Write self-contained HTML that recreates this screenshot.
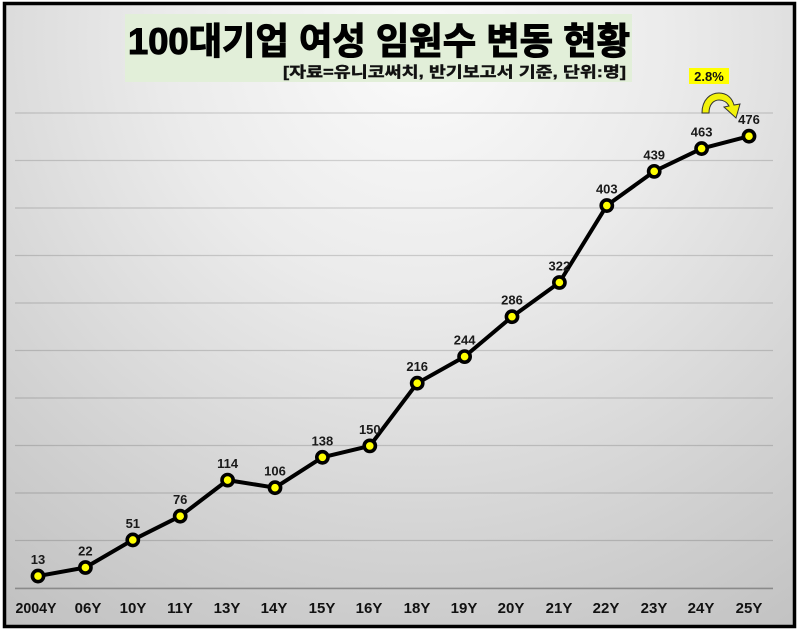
<!DOCTYPE html>
<html><head><meta charset="utf-8"><style>
html,body{margin:0;padding:0;background:#fff;}
svg{display:block;}
text{font-family:"Liberation Sans","Noto Sans CJK KR",sans-serif;font-weight:bold;}
</style></head><body>
<svg width="800" height="632" viewBox="0 0 800 632" xmlns="http://www.w3.org/2000/svg">
<defs>
<radialGradient id="bg" cx="420" cy="40" r="720" gradientUnits="userSpaceOnUse">
<stop offset="0" stop-color="#fbfbfb"/>
<stop offset="0.35" stop-color="#ebebeb"/>
<stop offset="0.75" stop-color="#d0d0d0"/>
<stop offset="1" stop-color="#c0c0c0"/>
</radialGradient>
</defs>
<rect x="0" y="0" width="800" height="632" fill="#fff"/>
<rect x="4.5" y="3.5" width="790" height="623" fill="url(#bg)" stroke="#000" stroke-width="3.5"/>
<g stroke="rgba(0,0,0,0.15)" stroke-width="1.2">
<line x1="15" y1="113" x2="773" y2="113"/>
<line x1="15" y1="160.5" x2="773" y2="160.5"/>
<line x1="15" y1="208" x2="773" y2="208"/>
<line x1="15" y1="255.5" x2="773" y2="255.5"/>
<line x1="15" y1="303" x2="773" y2="303"/>
<line x1="15" y1="350.5" x2="773" y2="350.5"/>
<line x1="15" y1="398" x2="773" y2="398"/>
<line x1="15" y1="445.5" x2="773" y2="445.5"/>
<line x1="15" y1="493" x2="773" y2="493"/>
<line x1="15" y1="540.5" x2="773" y2="540.5"/>
</g>
<line x1="15" y1="588.4" x2="773" y2="588.4" stroke="#8a8a8a" stroke-width="1.6"/>
<rect x="125" y="14" width="507" height="68" fill="#e2efd9"/>
<text x="128" y="54" font-size="37" fill="#000" stroke="#000" stroke-width="1.1" textLength="502" lengthAdjust="spacingAndGlyphs">100대기업 여성 임원수 변동 현황</text>
<text x="283" y="77" font-size="15" fill="#111" stroke="#111" stroke-width="0.4" textLength="343" lengthAdjust="spacingAndGlyphs">[자료=유니코써치, 반기보고서 기준, 단위:명]</text>
<polyline fill="none" stroke="#000" stroke-width="4" stroke-linejoin="round" points="38,576.05 85.4,567.5 132.8,539.95 180.2,516.2 227.6,480.1 275,487.7 322.4,457.3 369.8,445.9 417.2,383.2 464.6,356.6 512,316.7 559.4,282.5 606.8,205.55 654.2,171.35 701.6,148.55 749,136.2"/>
<g fill="#ffff00" stroke="#000" stroke-width="3.6">
<circle cx="38" cy="576.05" r="5.6"/><circle cx="85.4" cy="567.5" r="5.6"/><circle cx="132.8" cy="539.95" r="5.6"/><circle cx="180.2" cy="516.2" r="5.6"/><circle cx="227.6" cy="480.1" r="5.6"/><circle cx="275" cy="487.7" r="5.6"/><circle cx="322.4" cy="457.3" r="5.6"/><circle cx="369.8" cy="445.9" r="5.6"/><circle cx="417.2" cy="383.2" r="5.6"/><circle cx="464.6" cy="356.6" r="5.6"/><circle cx="512" cy="316.7" r="5.6"/><circle cx="559.4" cy="282.5" r="5.6"/><circle cx="606.8" cy="205.55" r="5.6"/><circle cx="654.2" cy="171.35" r="5.6"/><circle cx="701.6" cy="148.55" r="5.6"/><circle cx="749" cy="136.2" r="5.6"/>
</g>
<g font-size="13" fill="#1a1a1a" text-anchor="middle">
<text x="38" y="564">13</text><text x="85.4" y="555.5">22</text><text x="132.8" y="528">51</text><text x="180.2" y="504">76</text><text x="227.6" y="468">114</text><text x="275" y="475.7">106</text><text x="322.4" y="445.3">138</text><text x="369.8" y="433.9">150</text><text x="417.2" y="371.2">216</text><text x="464.6" y="344.6">244</text><text x="512" y="304.7">286</text><text x="559.4" y="270.5">322</text><text x="606.8" y="193.5">403</text><text x="654.2" y="159.3">439</text><text x="701.6" y="136.5">463</text><text x="749" y="124.2">476</text>
</g>
<g font-size="15" fill="#111" text-anchor="middle">
<text x="36" y="613" textLength="41" lengthAdjust="spacingAndGlyphs">2004Y</text><text x="88" y="613">06Y</text><text x="133" y="613">10Y</text><text x="180" y="613">11Y</text><text x="227" y="613">13Y</text><text x="274" y="613">14Y</text><text x="322" y="613">15Y</text><text x="369" y="613">16Y</text><text x="417" y="613">18Y</text><text x="464" y="613">19Y</text><text x="511" y="613">20Y</text><text x="559" y="613">21Y</text><text x="606" y="613">22Y</text><text x="654" y="613">23Y</text><text x="701" y="613">24Y</text><text x="749" y="613">25Y</text>
</g>
<rect x="689" y="68" width="40" height="16" fill="#ffff00"/>
<text x="709" y="81" font-size="13" fill="#111" text-anchor="middle">2.8%</text>
<path d="M702,113 C702,99 711,93 719,93 C727,93 732,98 734,105 L740,104 L736,118 L724,107 L729,106 C727,102 723,100 719,100 C714,100 709,104 709,113 Z" fill="#f2f20a" stroke="#333" stroke-width="1"/>
</svg>
</body></html>
